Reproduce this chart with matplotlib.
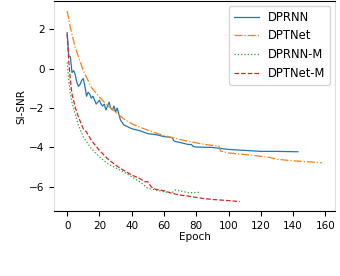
import matplotlib
matplotlib.use('Agg')
import matplotlib.pyplot as plt

# 数据
dprnn_ep = [0, 1, 2, 3, 4, 5, 6, 7, 8, 9, 10, 11, 12, 13, 14, 15, 16, 17, 18, 19,
            20, 21, 22, 23, 24, 25, 26, 27, 28, 29, 30, 31, 32, 33, 35, 40, 45, 50,
            55, 60, 65, 66, 67, 70, 75, 77, 78, 80, 90, 95, 100, 110, 120, 130, 143]
dprnn = [1.83, 0.65, 0.6, -0.2, -0.1, -0.3, -0.7, -0.9, -0.8, -0.6, -0.5, -0.9, -1.4,
         -1.2, -1.3, -1.5, -1.4, -1.6, -1.8, -1.7, -1.6, -1.8, -1.9, -1.8, -2.1, -1.9,
         -1.7, -2.0, -2.1, -1.9, -2.2, -2.0, -2.3, -2.6, -2.85, -3.05, -3.15, -3.3,
         -3.35, -3.45, -3.5, -3.65, -3.7, -3.75, -3.85, -3.85, -3.95, -3.98, -4.0,
         -4.05, -4.1, -4.15, -4.2, -4.2, -4.22]

dptnet_ep = [0, 2, 5, 10, 15, 20, 25, 30, 35, 40, 45, 50, 55, 60, 65, 70, 75, 80,
             85, 90, 94, 95, 100, 110, 120, 125, 130, 140, 150, 158]
dptnet = [2.93, 2.08, 1.07, -0.1, -0.95, -1.45, -1.87, -2.2, -2.55, -2.8, -2.97,
          -3.13, -3.27, -3.39, -3.5, -3.6, -3.69, -3.77, -3.84, -3.9, -3.93, -4.18,
          -4.28, -4.36, -4.45, -4.5, -4.6, -4.68, -4.73, -4.78]

dprnn_m_ep = [0, 1, 2, 3, 5, 7, 10, 15, 20, 25, 30, 35, 40, 45, 50, 55, 60, 65, 67,
              70, 75, 82]
dprnn_m = [0.32, -0.6, -1.28, -1.7, -2.3, -2.88, -3.47, -4.06, -4.48, -4.82, -5.04,
           -5.24, -5.49, -5.74, -6.08, -6.16, -6.25, -6.3, -6.16, -6.2, -6.3, -6.28]

dptnet_m_ep = [0, 1, 2, 3, 5, 7, 10, 12, 15, 20, 25, 30, 35, 40, 45, 48, 50, 52,
               55, 60, 65, 70, 75, 80, 85, 90, 95, 100, 107]
dptnet_m = [1.75, 0.4, -0.6, -1.28, -1.96, -2.46, -3.05, -3.22, -3.64, -4.15, -4.57,
            -4.9, -5.16, -5.4, -5.58, -5.74, -5.74, -6.0, -6.13, -6.2, -6.33, -6.42,
            -6.47, -6.54, -6.6, -6.64, -6.67, -6.7, -6.75]

fig = plt.figure(figsize=(3.4, 2.76), dpi=100)
ax = fig.add_axes([0.16, 0.235, 0.825, 0.76])

lw = 0.9
ax.plot(dprnn_ep, dprnn, '-', color='tab:blue', lw=lw, label='DPRNN')
ax.plot(dptnet_ep, dptnet, '-.', color='tab:orange', lw=lw, label='DPTNet')
ax.plot(dprnn_m_ep, dprnn_m, ':', color='tab:green', lw=lw, label='DPRNN-M')
ax.plot(dptnet_m_ep, dptnet_m, '--', color='tab:red', lw=lw, label='DPTNet-M')

ax.set_xticks([0, 20, 40, 60, 80, 100, 120, 140, 160])
ax.set_yticks([2, 0, -2, -4, -6])
ax.tick_params(labelsize=7.5, width=0.8, length=3.5)
ax.set_xlabel('Epoch', fontsize=7.5, labelpad=1)
ax.set_ylabel('SI-SNR', fontsize=7.5, labelpad=2)

# 左右边框颜色较浅
for s in ['left', 'right']:
    ax.spines[s].set_color('#dddddd')

ax.legend(loc='upper right', fontsize=8.3, borderaxespad=0.4, handlelength=2.2)

plt.savefig('out.png', dpi=100)
plt.close()
